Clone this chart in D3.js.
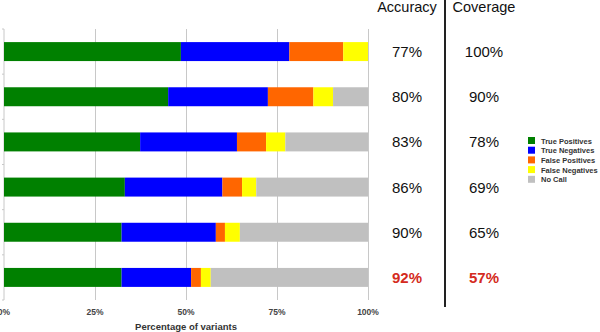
<!DOCTYPE html>
<html>
<head>
<meta charset="utf-8">
<script src="https://cdn.jsdelivr.net/npm/d3@7"></script>
<style>
  body { margin: 0; background: #fff; }
  svg { display: block; font-family: "Liberation Sans", Arial, sans-serif; }
</style>
</head>
<body>
<div id="grafica"></div>
<script>
// Datos
var series = ["True Positives", "True Negatives", "False Positives", "False Negatives", "No Call"];
var colores = ["#008000", "#0000ff", "#ff6600", "#ffff00", "#c0c0c0"];
var truePositives  = [48.6, 45.1, 37.4, 33.2, 32.3, 32.3];
var trueNegatives  = [29.8, 27.4, 26.6, 26.8, 25.9, 19.1];
var falsePositives = [14.8, 12.5, 8.0, 5.4, 2.5, 2.7];
var falseNegatives = [6.8, 5.4, 5.3, 3.9, 4.1, 2.7];
var noCall         = [0, 9.6, 22.7, 30.7, 35.2, 43.2];
var accuracy = ["77%", "80%", "83%", "86%", "90%", "92%"];
var coverage = ["100%", "90%", "78%", "69%", "65%", "57%"];
var ticks = [0, 25, 50, 75, 100];

var ancho = 600, altura = 332;
var margen = { arriba: 29, izquierda: 4, derecha: 232, abajo: 32 };

var svg = d3.select("#grafica").append("svg")
    .attr("width", ancho)
    .attr("height", altura);

var filas = d3.range(truePositives.length).map(function (i) {
    return {
        idx: i,
        "True Positives": truePositives[i],
        "True Negatives": trueNegatives[i],
        "False Positives": falsePositives[i],
        "False Negatives": falseNegatives[i],
        "No Call": noCall[i]
    };
});

var x = d3.scaleLinear()
    .domain([0, 100])
    .range([margen.izquierda, ancho - margen.derecha]);

var y = d3.scaleBand()
    .domain(d3.range(filas.length))
    .range([margen.arriba, altura - margen.abajo])
    .paddingInner(0.58)
    .paddingOuter(0.29);

var bandaY = d3.scaleBand()
    .domain(d3.range(filas.length))
    .range([margen.arriba, altura - margen.abajo]);

var color = d3.scaleOrdinal().domain(series).range(colores);

// Lineas de cuadricula
svg.append("g")
    .selectAll("line")
    .data(ticks.slice(1))
    .enter().append("line")
    .attr("x1", function (d) { return x(d) + 0.5; })
    .attr("x2", function (d) { return x(d) + 0.5; })
    .attr("y1", margen.arriba)
    .attr("y2", altura - margen.abajo)
    .attr("stroke", "#c8c8c8")
    .attr("stroke-width", 1);

// Eje izquierdo con marcas pequeñas
svg.append("line")
    .attr("x1", x(0)).attr("x2", x(0))
    .attr("y1", margen.arriba).attr("y2", altura - margen.abajo)
    .attr("stroke", "#c8c8c8");
svg.append("g")
    .selectAll("line")
    .data(d3.range(filas.length + 1))
    .enter().append("line")
    .attr("x1", x(0) - 2).attr("x2", x(0))
    .attr("y1", function (d) { return margen.arriba + d * bandaY.step(); })
    .attr("y2", function (d) { return margen.arriba + d * bandaY.step(); })
    .attr("stroke", "#c8c8c8");

// Barras apiladas
var pila = d3.stack().keys(series)(filas);

svg.append("g")
    .selectAll("g")
    .data(pila)
    .enter().append("g")
    .attr("fill", function (d) { return color(d.key); })
    .selectAll("rect")
    .data(function (d) { return d; })
    .enter().append("rect")
    .attr("x", function (d) { return x(d[0]); })
    .attr("width", function (d) { return Math.max(0, x(d[1]) - x(d[0])); })
    .attr("y", function (d) { return y(d.data.idx); })
    .attr("height", y.bandwidth());

// Etiquetas del eje x
svg.append("g")
    .selectAll("text")
    .data(ticks)
    .enter().append("text")
    .attr("x", function (d) { return x(d); })
    .attr("y", 315)
    .attr("text-anchor", "middle")
    .attr("font-size", 8.5)
    .attr("font-weight", "bold")
    .attr("fill", "#444")
    .text(function (d) { return d + "%"; });

svg.append("text")
    .attr("x", x(50))
    .attr("y", 330)
    .attr("text-anchor", "middle")
    .attr("font-size", 9.5)
    .attr("font-weight", "bold")
    .attr("fill", "#333")
    .text("Percentage of variants");

// Tabla de la derecha
var colAcc = 407, colCov = 484;

svg.append("line")
    .attr("x1", 445).attr("x2", 445)
    .attr("y1", 0).attr("y2", 307)
    .attr("stroke", "#222")
    .attr("stroke-width", 2);

svg.append("text")
    .attr("x", colAcc).attr("y", 12)
    .attr("text-anchor", "middle")
    .attr("font-size", 14.5)
    .attr("fill", "#111")
    .text("Accuracy");

svg.append("text")
    .attr("x", colCov).attr("y", 12)
    .attr("text-anchor", "middle")
    .attr("font-size", 14.5)
    .attr("fill", "#111")
    .text("Coverage");

var ultimo = filas.length - 1;

svg.append("g")
    .selectAll("text")
    .data(accuracy)
    .enter().append("text")
    .attr("x", colAcc)
    .attr("y", function (d, i) { return y(i) + y.bandwidth() / 2 + 5.5; })
    .attr("text-anchor", "middle")
    .attr("font-size", 15)
    .attr("font-weight", function (d, i) { return i === ultimo ? "bold" : "normal"; })
    .attr("fill", function (d, i) { return i === ultimo ? "#d42a20" : "#111"; })
    .text(function (d) { return d; });

svg.append("g")
    .selectAll("text")
    .data(coverage)
    .enter().append("text")
    .attr("x", colCov)
    .attr("y", function (d, i) { return y(i) + y.bandwidth() / 2 + 5.5; })
    .attr("text-anchor", "middle")
    .attr("font-size", 15)
    .attr("font-weight", function (d, i) { return i === ultimo ? "bold" : "normal"; })
    .attr("fill", function (d, i) { return i === ultimo ? "#d42a20" : "#111"; })
    .text(function (d) { return d; });

// Leyenda
var leyenda = svg.append("g")
    .attr("transform", "translate(528,137)");

var item = leyenda.selectAll("g")
    .data(series)
    .enter().append("g")
    .attr("transform", function (d, i) { return "translate(0," + (i * 9.7) + ")"; });

item.append("rect")
    .attr("width", 7)
    .attr("height", 7)
    .attr("fill", function (d) { return color(d); });

item.append("text")
    .attr("x", 13)
    .attr("y", 6.5)
    .attr("font-size", 7.5)
    .attr("font-weight", "bold")
    .attr("fill", "#333")
    .text(function (d) { return d; });
</script>
</body>
</html>
